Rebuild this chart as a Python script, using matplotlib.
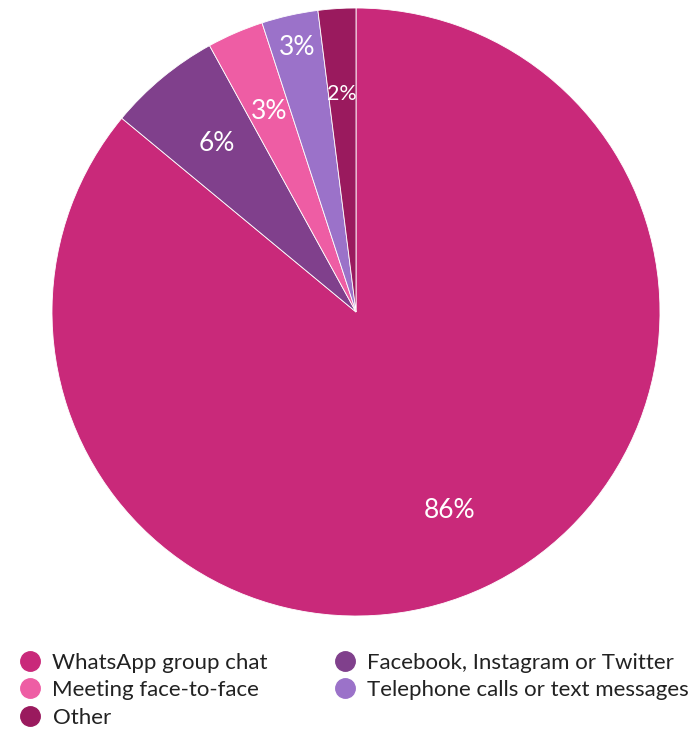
import numpy as np
import matplotlib.pyplot as plt
from matplotlib.lines import Line2D

labels = ["WhatsApp group chat", "Facebook, Instagram or Twitter", "Meeting face-to-face",
          "Telephone calls or text messages", "Other"]
values = [86, 6, 3, 3, 2]
colors = ["#C9297A", "#80408C", "#EE5DA4", "#9B72C9", "#9A1A5E"]
label_r = [0.72, 0.72, 0.72, 0.89, 0.72]
label_size = [19, 19, 19, 19, 15.5]

plt.rcParams['font.family'] = ['Lato', 'DejaVu Sans']

fig = plt.figure(figsize=(7, 7.3), dpi=100)
W, H = 700, 730
cx, cy, r = 356, 312, 304
ax = fig.add_axes([(cx - r) / W, (H - cy - r) / H, 2 * r / W, 2 * r / H])

wedges, _ = ax.pie(values, colors=colors, startangle=90, counterclock=False,
                   wedgeprops=dict(edgecolor="white", linewidth=0.6))
ax.set_xlim(-1, 1)
ax.set_ylim(-1, 1)
ax.set_aspect("equal")

for w, v, lr, fs in zip(wedges, values, label_r, label_size):
    ang = np.deg2rad((w.theta1 + w.theta2) / 2)
    ax.text(lr * np.cos(ang), lr * np.sin(ang), f"{v}%", ha="center", va="center",
            color="white", fontsize=fs)

# legend fills column by column, so reorder to read row-wise
order = [0, 2, 4, 1, 3]
handles = [Line2D([], [], marker="o", linestyle="none", markersize=14,
                  markerfacecolor=colors[i], markeredgecolor=colors[i]) for i in order]
fig.legend(handles, [labels[i] for i in order], ncol=2, loc="lower left",
           bbox_to_anchor=(-0.005, -0.024), frameon=False, fontsize=16,
           handletextpad=0.42, columnspacing=2.85, labelspacing=0.33,
           labelcolor="#222222", handlelength=1.2)

fig.savefig("out.png", dpi=100)
